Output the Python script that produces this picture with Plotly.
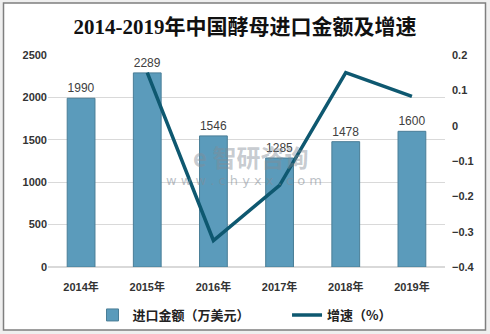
import plotly.graph_objects as go

years = ["2014年", "2015年", "2016年", "2017年", "2018年", "2019年"]
amount = [1990, 2289, 1546, 1285, 1478, 1600]          # 进口金额（万美元）
growth = [None, 0.150, -0.325, -0.169, 0.150, 0.083]   # 增速

W, H = 490, 334
ML, MR, MT, MB = 48, 45, 55, 67
pw, ph = W - ML - MR, H - MT - MB


def px_x(x):
    return (x - ML) / pw


def px_y(y):
    return (H - MB - y) / ph


fig = go.Figure()
fig.add_trace(go.Bar(
    x=years, y=amount, name="<b>进口金额（万美元）</b>\u3000\u3000\u3000",
    width=0.42,
    marker=dict(color="#5b9bbb", line=dict(color="#4a7e97", width=1)),
    text=[str(v) for v in amount], textposition="outside",
    textfont=dict(family="Liberation Sans, Noto Sans CJK SC", size=12, color="#404040"),
    cliponaxis=False,
))
fig.add_trace(go.Scatter(
    x=years, y=growth, name="<b>增速（%）</b>", yaxis="y2",
    mode="lines", line=dict(color="#0e5870", width=3.5),
))

# 水印
fig.add_annotation(xref="paper", yref="paper", x=px_x(250), y=px_y(156),
                   text="<b>e 智研咨询</b>", showarrow=False,
                   font=dict(family="Noto Sans CJK SC", size=24, color="rgba(130,140,150,0.45)"))
fig.add_annotation(xref="paper", yref="paper", x=px_x(244), y=px_y(180),
                   text="w w w . c h y x x . c o m", showarrow=False,
                   font=dict(family="DejaVu Sans", size=13, color="rgba(130,140,150,0.55)"))

# 外框
fig.add_shape(type="rect", xref="paper", yref="paper", layer="below",
              x0=px_x(3.5), x1=px_x(485.5), y0=px_y(330), y1=px_y(3),
              fillcolor="white", line=dict(color="#7f7f7f", width=1.5))

tick_font = dict(family="Liberation Sans, Noto Sans CJK SC", size=11, color="#333333")

fig.update_layout(
    width=W, height=H,
    margin=dict(l=ML, r=MR, t=MT, b=MB, autoexpand=False),
    paper_bgcolor="#efefef", plot_bgcolor="rgba(0,0,0,0)",
    title=dict(text="<b>2014-2019年中国酵母进口金额及增速</b>", x=0.5, xref="container",
               y=1 - 27 / H, yref="container", xanchor="center", yanchor="middle",
               font=dict(family="Liberation Serif, Noto Sans CJK SC", size=21, color="#111111")),
    xaxis=dict(tickfont=tick_font, showgrid=False, showline=False, ticks="",
               ticklabelstandoff=12, range=[-0.5, 5.5],
               tickvals=years, ticktext=[f"<b>{y}</b>" for y in years]),
    yaxis=dict(range=[0, 2500], dtick=500, gridcolor="#d9d9d9", zeroline=True,
               zerolinecolor="#d9d9d9", showline=False, tickfont=tick_font,
               tickprefix="<b>", ticksuffix="</b>"),
    yaxis2=dict(range=[-0.4, 0.2], dtick=0.1, overlaying="y", side="right",
                showgrid=False, zeroline=False, showline=False,
                tickformat=".1~f", tickfont=tick_font,
                tickprefix="<b>", ticksuffix="</b>", ticklabelstandoff=6),
    legend=dict(orientation="h", x=0.5, xanchor="center", xref="container",
                y=1 - 315 / H, yanchor="middle", yref="container",
                font=dict(family="Noto Sans CJK SC", size=13, color="#222222"),
                bgcolor="rgba(0,0,0,0)", itemwidth=30),
    showlegend=True,
)

fig.write_html("out.html")
